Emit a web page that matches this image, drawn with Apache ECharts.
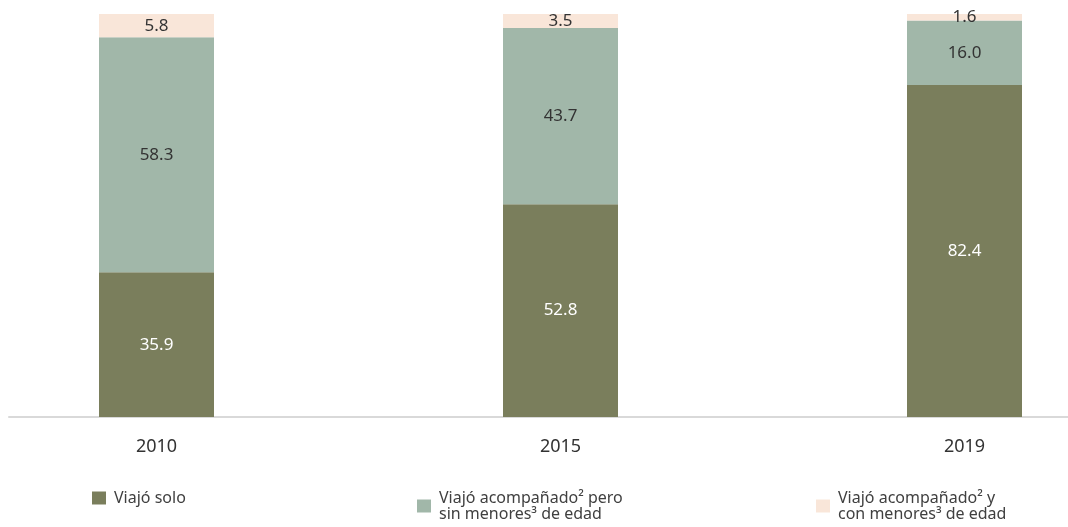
<!DOCTYPE html>
<html>
<head>
<meta charset="utf-8">
<script src="https://cdn.jsdelivr.net/npm/echarts@6/dist/echarts.min.js"></script>
<style>html,body{margin:0;padding:0;background:#fff;}#c{width:1068px;height:527px;}</style>
</head>
<body>
<div id="c"></div>
<script>
var categories = ['2010', '2015', '2019'];
var seriesNames = ['Viajó solo', 'Viajó acompañado² pero\nsin menores³ de edad', 'Viajó acompañado² y\ncon menores³ de edad'];
var soloValues = [35.9, 52.8, 82.4];
var sinMenoresValues = [58.3, 43.7, 16.0];
var conMenoresValues = [5.8, 3.5, 1.6];

var colors = ['#7a7e5c', '#a1b7a9', '#f9e6d9'];
var labelColors = ['#ffffff', '#333333', '#333333'];
var font = 'Noto Sans';
var dataSets = [soloValues, sinMenoresValues, conMenoresValues];

var series = dataSets.map(function (vals, i) {
  return {
    name: seriesNames[i],
    type: 'bar',
    stack: 'total',
    barWidth: 115,
    data: vals,
    itemStyle: { color: colors[i] },
    label: {
      show: true,
      position: 'inside',
      color: labelColors[i],
      fontFamily: font,
      fontSize: 17,
      formatter: function (p) { return p.value.toFixed(1); }
    },
    emphasis: { disabled: true }
  };
});

var legendLefts = [92, 417, 816];
var legends = seriesNames.map(function (n, i) {
  return {
    data: [n],
    left: legendLefts[i],
    top: i === 0 ? 490 : 482,
    padding: 0,
    itemWidth: 14,
    itemHeight: 13,
    itemGap: 0,
    icon: 'rect',
    selectedMode: false,
    textStyle: {
      fontFamily: font,
      fontSize: 16,
      color: '#404040',
      lineHeight: 16,
      padding: i === 0 ? [0, 0, 0, 3] : [16, 0, 0, 3]
    }
  };
});

var chart = echarts.init(document.getElementById('c'), null, { renderer: 'canvas' });
chart.setOption({
  animation: false,
  backgroundColor: '#ffffff',
  grid: [
    { left: -45.5, right: -98.5, top: 14, bottom: 110, containLabel: false, outerBoundsMode: 'none' },
    { left: 9, right: 0, top: 14, bottom: 110, containLabel: false, outerBoundsMode: 'none' }
  ],
  legend: legends,
  xAxis: [
    {
      type: 'category',
      gridIndex: 0,
      data: categories,
      axisLine: { show: false },
      axisTick: { show: false },
      axisLabel: { fontFamily: font, fontSize: 18, color: '#333333', margin: 21 }
    },
    {
      type: 'category',
      gridIndex: 1,
      data: [''],
      axisLine: { show: true, lineStyle: { color: '#d9d9d9', width: 2 } },
      axisTick: { show: false },
      axisLabel: { show: false }
    }
  ],
  yAxis: [
    { type: 'value', gridIndex: 0, min: 0, max: 100, show: false },
    { type: 'value', gridIndex: 1, min: 0, max: 100, show: false }
  ],
  series: series
});
</script>
</body>
</html>
